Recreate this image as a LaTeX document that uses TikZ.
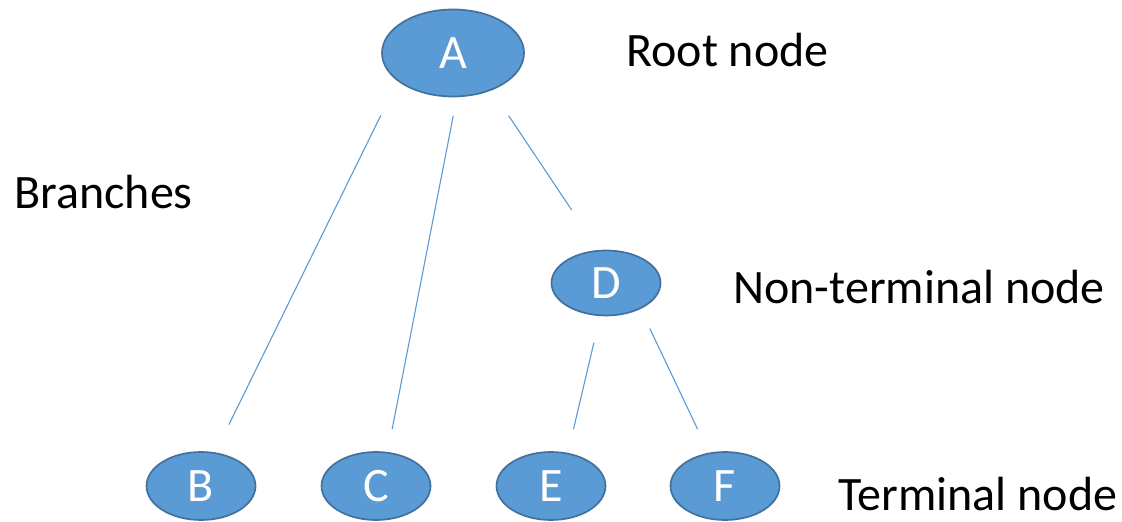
\documentclass[tikz,border=0pt]{standalone}
\usepackage{fontspec}
\setmainfont{Carlito}
\usetikzlibrary{shapes.geometric}

\definecolor{nodefill}{HTML}{5B9BD5}
\definecolor{nodeline}{HTML}{41719C}

\tikzset{
    treenode/.style={ellipse, fill=nodefill, draw=nodeline, line width=0.85pt,
        inner sep=0pt, text=white, font=\fontsize{24}{29}\selectfont},
    branch/.style={draw=nodefill, line width=0.55pt},
    caption/.style={anchor=west, inner sep=0pt, font=\fontsize{24}{29}\selectfont}
}

\begin{document}
\begin{tikzpicture}[x=0.5pt, y=-0.5pt]
        \useasboundingbox (0,0) rectangle (1122,522);

        % the nodes of the tree
        \node[treenode, minimum width=71pt, minimum height=43.5pt] (A) at (453,53) {A};
        \node[treenode, minimum width=54.5pt, minimum height=32.5pt] (D) at (606,283) {D};
        \node[treenode, minimum width=54.5pt, minimum height=34pt] (B) at (201,486) {B};
        \node[treenode, minimum width=54.5pt, minimum height=34pt] (C) at (376,486) {C};
        \node[treenode, minimum width=54.5pt, minimum height=34pt] (E) at (551,486) {E};
        \node[treenode, minimum width=54.5pt, minimum height=34pt] (F) at (725,486) {F};

        % the texts
        \node[caption] (root) at (626,50) {Root node};
        \node[caption] (branches) at (14,192) {Branches};
        \node[caption] (nonterm) at (733,287) {Non-terminal node};
        \node[caption] (term) at (838,494) {Terminal node};

        % the branches, kept clear of the nodes
        \draw[branch, shorten <=19pt, shorten >=15.5pt] (A.207) -- (B.67);
        \draw[branch, shorten <=9.4pt, shorten >=11.6pt] (A.275) -- (C.71);
        \draw[branch, shorten <=15.2pt, shorten >=23.9pt] (A.316) -- (D.103);
        \draw[branch, shorten <=13.7pt, shorten >=12.1pt] (D.260) -- (E.63);
        \draw[branch, shorten <=10.8pt, shorten >=13pt] (D.323) -- (F.116);

\end{tikzpicture}
\end{document}
